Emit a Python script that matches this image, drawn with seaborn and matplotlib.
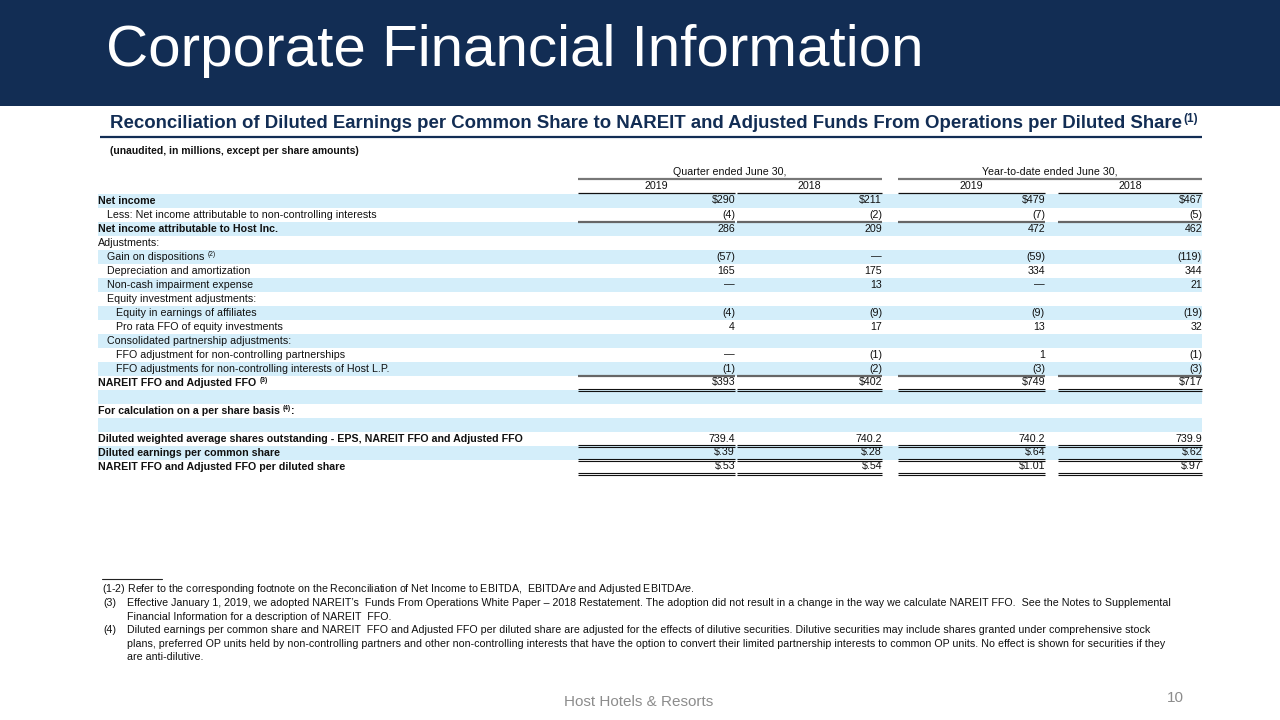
import matplotlib
matplotlib.use("Agg")
import matplotlib.pyplot as plt
import seaborn as sns
from matplotlib.patches import Rectangle

sns.set_theme(style="white")
plt.rcParams['font.family'] = ['Liberation Sans', 'DejaVu Sans']
plt.rcParams['mathtext.fontset'] = 'custom'
plt.rcParams['mathtext.it'] = 'Liberation Sans:italic'
plt.rcParams['mathtext.rm'] = 'Liberation Sans'

# ---------------- data ----------------
title = "Corporate Financial Information"
subtitle = "Reconciliation of Diluted Earnings per Common Share to NAREIT and Adjusted Funds From Operations per Diluted Share"
unit_note = "(unaudited, in millions, except per share amounts)"
group_headers = ["Quarter ended June 30,", "Year-to-date ended June 30,"]
col_years = ["2019", "2018", "2019", "2018"]

row_labels = [
    "Net income",
    "Less: Net income attributable to non-controlling interests",
    "Net income attributable to Host Inc.",
    "Adjustments:",
    "Gain on dispositions",
    "Depreciation and amortization",
    "Non-cash impairment expense",
    "Equity investment adjustments:",
    "Equity in earnings of affiliates",
    "Pro rata FFO of equity investments",
    "Consolidated partnership adjustments:",
    "FFO adjustment for non-controlling partnerships",
    "FFO adjustments for non-controlling interests of Host L.P.",
    "NAREIT FFO and Adjusted FFO",
    "",
    "For calculation on a per share basis",
    "",
    "Diluted weighted average shares outstanding - EPS, NAREIT FFO and Adjusted FFO",
    "Diluted earnings per common share",
    "NAREIT FFO and Adjusted FFO per diluted share",
]
row_sup = ["", "", "", "", "(2)", "", "", "", "", "", "", "", "", "(3)", "", "(4)", "", "", "", ""]
row_suffix = ["", "", "", "", "", "", "", "", "", "", "", "", "", "", "", ":", "", "", "", ""]
row_indent = [0, 1, 0, 0, 1, 1, 1, 1, 2, 2, 1, 2, 2, 0, 0, 0, 0, 0, 0, 0]
row_bold = [1, 0, 1, 0, 0, 0, 0, 0, 0, 0, 0, 0, 0, 1, 0, 1, 0, 1, 1, 1]
q2019 = ["$290", "(4)", "286", "", "(57)", "165", "\u2014", "", "(4)", "4", "", "\u2014", "(1)", "$393", "", "", "", "739.4", "$.39", "$.53"]
q2018 = ["$211", "(2)", "209", "", "\u2014", "175", "13", "", "(9)", "17", "", "(1)", "(2)", "$402", "", "", "", "740.2", "$.28", "$.54"]
y2019 = ["$479", "(7)", "472", "", "(59)", "334", "\u2014", "", "(9)", "13", "", "1", "(3)", "$749", "", "", "", "740.2", "$.64", "$1.01"]
y2018 = ["$467", "(5)", "462", "", "(119)", "344", "21", "", "(19)", "32", "", "(1)", "(3)", "$717", "", "", "", "739.9", "$.62", "$.97"]
# underline under values: 0 none, 1 single, 2 double
row_rule = [0, 1, 0, 0, 0, 0, 0, 0, 0, 0, 0, 0, 1, 2, 0, 0, 0, 2, 2, 2]

footnotes = [
    ("(1-2)", "Refer to the corresponding footnote on the Reconciliation of Net Income to EBITDA,  EBITDA$re$ and Adjusted EBITDA$re$."),
    ("(3)", "Effective January 1, 2019, we adopted NAREIT\u2019s  Funds From Operations White Paper \u2013 2018 Restatement. The adoption did not result in a change in the way we calculate NAREIT FFO.  See the Notes to Supplemental"),
    ("", "Financial Information for a description of NAREIT  FFO."),
    ("(4)", "Diluted earnings per common share and NAREIT  FFO and Adjusted FFO per diluted share are adjusted for the effects of dilutive securities. Dilutive securities may include shares granted under comprehensive stock"),
    ("", "plans, preferred OP units held by non-controlling partners and other non-controlling interests that have the option to convert their limited partnership interests to common OP units. No effect is shown for securities if they"),
    ("", "are anti-dilutive."),
]
footer_text = "Host Hotels & Resorts"
page_no = "10"

# ---------------- figure ----------------
NAVY = "#122d54"
STRIPE = "#d4eefa"
TXT = "#111111"

fig = plt.figure(figsize=(12.8, 7.2), dpi=100)
ax = fig.add_axes([0, 0, 1, 1])
ax.set_xlim(0, 1280)
ax.set_ylim(720, 0)
ax.axis("off")

# header band
ax.add_patch(Rectangle((0, 0), 1280, 106, color=NAVY, lw=0))
ax.text(106, 51, title, color="white", fontsize=42, va="center", ha="left")

# subtitle
st = ax.text(110, 124, subtitle, color=NAVY, fontsize=13.4, fontweight="bold", va="center", ha="left")
ax.plot([100, 1202], [137, 137], color=NAVY, lw=1.6, solid_capstyle="butt")
ax.text(110, 151, unit_note, color=TXT, fontsize=7.5, fontweight="bold", va="center", ha="left")

# column geometry
col_left = [578, 737, 898, 1058]
col_right = [735, 882, 1045, 1202]
grp_span = [(578, 882), (898, 1202)]

fs = 7.7
for (a, b), h in zip(grp_span, group_headers):
    ax.text((a + b) / 2, 172, h, fontsize=fs, color=TXT, ha="center", va="center")
    ax.plot([a, b], [179, 179], color="#777777", lw=1.6, solid_capstyle="butt")
for a, b, yr in zip(col_left, col_right, col_years):
    ax.text((a + b) / 2, 186, yr, fontsize=fs, color=TXT, ha="center", va="center")
    ax.plot([a, b], [193, 193], color="#111111", lw=0.9, solid_capstyle="butt")

y0, pitch = 200.5, 14.0
cols = [q2019, q2018, y2019, y2018]
label_x = [98, 107, 116]
sup_items = []
for i, lab in enumerate(row_labels):
    yc = y0 + i * pitch
    if i % 2 == 0:
        ax.add_patch(Rectangle((98, yc - pitch / 2), 1202 - 98, pitch, color=STRIPE, lw=0, zorder=0))
    w = "bold" if row_bold[i] else "normal"
    if lab:
        t = ax.text(label_x[row_indent[i]], yc, lab, fontsize=fs, fontweight=w, color=TXT, ha="left", va="center")
        if row_sup[i]:
            sup_items.append((t, row_sup[i], row_suffix[i], yc, w))
    for c, vals in enumerate(cols):
        if vals[i]:
            ax.text(col_right[c], yc, vals[i], fontsize=fs, color=TXT, ha="right", va="center")
        if row_rule[i] == 1:
            ax.plot([col_left[c], col_right[c]], [yc + 7, yc + 7], color="#666666", lw=1.6, solid_capstyle="butt")
        elif row_rule[i] == 2:
            for dy in (6.2, 8.4):
                ax.plot([col_left[c], col_right[c]], [yc + dy, yc + dy], color="#111111", lw=0.8, solid_capstyle="butt")

# superscripts placed after rendered text
fig.canvas.draw()
r = fig.canvas.get_renderer()
inv = ax.transData.inverted()
def right_edge(t):
    bb = t.get_window_extent(renderer=r)
    return inv.transform((bb.x1, bb.y0))[0]

xs = right_edge(st)
ax.text(xs + 1, 119, "(1)", color=NAVY, fontsize=8.5, fontweight="bold", va="center", ha="left")
for t, s, suf, yc, w in sup_items:
    xe = right_edge(t)
    s_t = ax.text(xe + 3, yc - 2.5, s, fontsize=4.8, fontweight=w, color=TXT, va="center", ha="left")
    if suf:
        fig.canvas.draw()
        xe2 = right_edge(s_t)
        ax.text(xe2 + 0.5, yc, suf, fontsize=fs, fontweight=w, color=TXT, va="center", ha="left")

# footnotes
ax.plot([102, 162], [579, 579], color="#222222", lw=0.8)
fy = 589.5
ffs = 7.65
for k, (tag, txt) in enumerate(footnotes):
    yc = fy + k * 13.6
    if tag == "(1-2)":
        ax.text(102, yc, tag + " " + txt, fontsize=ffs, color=TXT, ha="left", va="center")
    else:
        if tag:
            ax.text(103, yc, tag, fontsize=ffs, color=TXT, ha="left", va="center")
        ax.text(127, yc, txt, fontsize=ffs, color=TXT, ha="left", va="center")

# footer
ax.text(639, 702, footer_text, fontsize=11, color="#8c8c8c", ha="center", va="center")
ax.text(1175, 698, page_no, fontsize=11, color="#8c8c8c", ha="center", va="center")

fig.savefig("out.png", dpi=100)
